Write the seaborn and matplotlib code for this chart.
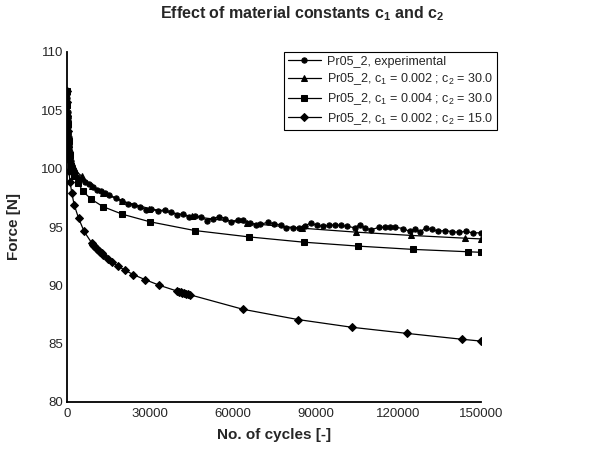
import numpy as np
import pandas as pd
import seaborn as sns
import matplotlib.pyplot as plt
from matplotlib.ticker import MultipleLocator

# ---- data ----
exp_cycles = [0, 30, 60, 100, 150, 200, 250, 300, 400, 500, 600, 700, 800, 900, 1000,
              1200, 1400, 1600, 1800, 2000, 2300, 2600, 3000, 3800, 5000, 6400, 7800,
              9300, 10800, 12400, 13800, 15300, 17600, 19900, 22000, 24300, 26400,
              28500, 30500, 32900, 35500, 37600, 39800, 42000, 44200, 46400, 48600,
              50800, 52900, 55200, 57400, 59600, 61800, 63900, 66200, 68300, 69800,
              72700, 75100, 77400, 79500, 81800, 83900, 86200, 88300, 90600, 92700,
              95000, 97100, 99300, 101500, 104200, 106100, 108100, 110000, 113000,
              115100, 117100, 119000, 121900, 124100, 126000, 128000, 130000, 132200,
              134600, 137000, 139500, 142000, 144500, 147000, 150000]
exp_force = [106.7, 106.4, 106.1, 105.7, 105.3, 104.9, 104.5, 104.2, 103.6, 103.1, 102.7,
             102.3, 102.0, 101.7, 101.4, 101.0, 100.7, 100.4, 100.2, 100.0, 99.8, 99.6,
             99.4, 99.3, 99.1, 98.9, 98.65, 98.45, 98.2, 98.05, 97.9, 97.75, 97.5, 97.25,
             97.0, 96.85, 96.7, 96.5, 96.55, 96.35, 96.5, 96.27, 96.05, 96.1, 95.85,
             95.95, 95.87, 95.55, 95.72, 95.9, 95.7, 95.45, 95.63, 95.6, 95.36, 95.2,
             95.22, 95.4, 95.27, 95.19, 94.93, 94.93, 94.95, 95.07, 95.36, 95.13, 95.07,
             95.13, 95.2, 95.13, 95.07, 94.93, 95.21, 94.93, 94.75, 94.97, 94.99, 94.99,
             94.97, 94.87, 94.62, 94.79, 94.6, 94.93, 94.79, 94.64, 94.7, 94.6, 94.55,
             94.62, 94.5, 94.5]

tri_cycles = [0, 100, 250, 500, 800, 1200, 1800, 2400, 3000, 5400, 9200, 13200, 19800,
              29800, 45300, 65100, 85000, 104700, 124500, 144300, 150000]
tri_force = [106.7, 105.8, 104.6, 103.2, 102.1, 101.2, 100.5, 100.1, 99.85, 99.34, 98.48,
             97.9, 97.23, 96.58, 95.91, 95.33, 94.9, 94.56, 94.28, 94.04, 93.98]

sq_cycles = [0, 100, 300, 600, 1000, 1600, 2500, 4000, 5750, 8800, 13000, 20000, 30000,
             46200, 66000, 85700, 105600, 125400, 145200, 150000]
sq_force = [106.7, 105.5, 103.8, 102.4, 101.2, 100.2, 99.4, 98.8, 98.06, 97.38, 96.75,
            96.1, 95.45, 94.7, 94.15, 93.7, 93.36, 93.08, 92.88, 92.83]

dia_cycles = [0, 50, 120, 220, 350, 500, 700, 1080, 1750, 2600, 4200, 6200, 8900, 9400,
              9900, 10400, 10900, 11500, 12100, 12700, 13200, 14700, 16400, 18400, 21000,
              24000, 28200, 33500, 40000, 40600, 41200, 41800, 42400, 43000, 43700, 44400,
              63700, 83600, 103400, 123200, 143000, 150000]
dia_force = [106.7, 105.7, 104.5, 103.2, 101.9, 100.8, 99.8, 98.9, 97.9, 96.9, 95.75,
             94.62, 93.65, 93.5, 93.37, 93.24, 93.12, 92.98, 92.85, 92.74, 92.63, 92.3,
             92.03, 91.65, 91.3, 90.92, 90.5, 90.0, 89.5, 89.45, 89.4, 89.36, 89.32,
             89.28, 89.24, 89.2, 87.95, 87.07, 86.4, 85.88, 85.38, 85.22]

labels = ["Pr05_2, experimental",
          "Pr05_2, c$_1$ = 0.002 ; c$_2$ = 30.0",
          "Pr05_2, c$_1$ = 0.004 ; c$_2$ = 30.0",
          "Pr05_2, c$_1$ = 0.002 ; c$_2$ = 15.0"]

sns.set_style("white")
plt.rcParams["font.family"] = ["Liberation Sans", "DejaVu Sans"]
plt.rcParams["mathtext.fontset"] = "custom"
plt.rcParams["mathtext.rm"] = "Liberation Sans"
plt.rcParams["mathtext.it"] = "Liberation Sans:italic"
plt.rcParams["mathtext.bf"] = "Liberation Sans:bold"
plt.rcParams["mathtext.default"] = "regular"

fig = plt.figure(figsize=(6.05, 4.57), dpi=100)
ax = fig.add_axes([67 / 605, 1 - 402 / 457, 414 / 605, 350 / 457])

series = [(exp_cycles, exp_force, "o", 3.8),
          (tri_cycles, tri_force, "^", 4.6),
          (sq_cycles, sq_force, "s", 5.0),
          (dia_cycles, dia_force, "D", 4.2)]
for (xs, ys, mk, ms), lab in zip(series, labels):
    sns.lineplot(x=xs, y=ys, ax=ax, sort=False, estimator=None, color="black",
                 marker=mk, markersize=ms, markeredgecolor="black",
                 markerfacecolor="black", linewidth=0.9, label=lab)

ax.set_xlim(0, 150000)
ax.set_ylim(80, 110)
ax.xaxis.set_major_locator(MultipleLocator(30000))
ax.xaxis.set_minor_locator(MultipleLocator(15000))
ax.yaxis.set_major_locator(MultipleLocator(5))
ax.yaxis.set_minor_locator(MultipleLocator(2.5))
ax.tick_params(which="both", direction="in", width=1.0, labelsize=9.5, pad=3)
ax.tick_params(which="major", length=5)
ax.tick_params(which="minor", length=3)
ax.tick_params(axis="x", pad=4)
for s in ["top", "right"]:
    ax.spines[s].set_visible(False)
for s in ["left", "bottom"]:
    ax.spines[s].set_linewidth(1.3)
    ax.spines[s].set_color("black")

ax.set_xlabel("No. of cycles [-]", fontsize=11, fontweight="bold", labelpad=6)
ax.set_ylabel("Force [N]", fontsize=11, fontweight="bold", labelpad=14)
fig.text(302 / 605, 1 - 14 / 457,
         r"Effect of material constants c$_\mathbf{1}$ and c$_\mathbf{2}$",
         ha="center", va="center", fontsize=11.5, fontweight="bold")

leg = ax.legend(loc="upper right", bbox_to_anchor=(497 / 605, 1 - 52 / 457),
                bbox_transform=fig.transFigure, fontsize=9, frameon=True,
                fancybox=False, edgecolor="black", framealpha=1,
                handlelength=2.6, labelspacing=0.3, borderpad=0.3,
                handletextpad=0.5, borderaxespad=0.0)
leg.get_frame().set_linewidth(0.8)

fig.savefig("out.png", dpi=100)
